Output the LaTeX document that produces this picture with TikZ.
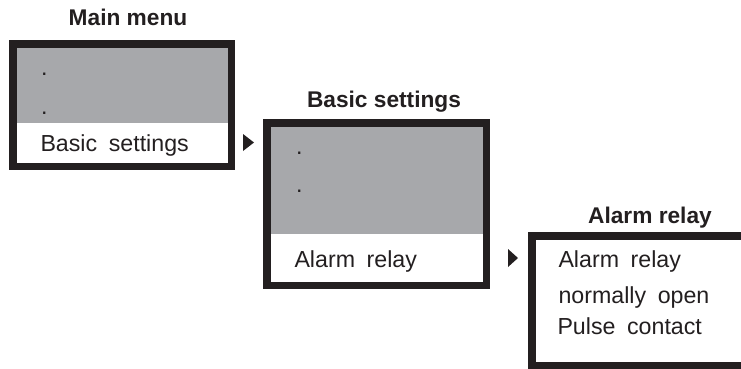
\documentclass[tikz,border=0pt]{standalone}
\usepackage{fontspec}
\setmainfont{Liberation Sans}[WordSpace=1.8]
\newfontfamily\titlefont{Liberation Sans}
\definecolor{menuink}{RGB}{35,31,32}
\definecolor{menugray}{RGB}{167,168,171}
\usetikzlibrary{positioning}

\begin{document}
\begin{tikzpicture}[x=1pt, y=-1pt,
  every node/.style={inner sep=0pt, outer sep=0pt},
  menubox/.style={draw=menuink, line width=7.5pt},
  entry/.style={anchor=base west, font=\fontsize{23.2}{27}\selectfont, menuink},
  heading/.style={anchor=base, font=\titlefont\bfseries\fontsize{22.7}{27}\selectfont, menuink},
]
\useasboundingbox (0,0) rectangle (741,368);

% === Grey (inactive) areas ===
\fill[menugray] (12,43) rectangle (232,123);
\fill[menugray] (266,122) rectangle (487,234);

% === Menu frames ===
\node[menubox, minimum width=218.5pt, minimum height=122.5pt]
      (mainbox) at (122,105) {};
\node[menubox, minimum width=219.5pt, minimum height=162.5pt]
      (basicbox) at (376.5,204) {};
\node[menubox, minimum width=214.5pt, minimum height=129.5pt]
      (alarmbox) at (639,300.5) {};

% === Headings ===
\node[heading] (mainhead) at (128,25) {Main menu};
\node[heading] (basichead) at (384,107) {Basic settings};
\node[heading] (alarmhead) at (650,223) {Alarm relay};

% === Main menu entries ===
\node[entry] (m1) at (41,75) {.};
\node[entry] (m2) at (41,114) {.};
\node[entry] (m3) at (40.5,151) {Basic settings};

% === Basic settings entries ===
\node[entry] (b1) at (296,154) {.};
\node[entry] (b2) at (296,192) {.};
\node[entry] (b3) at (294.5,267) {Alarm relay};

% === Alarm relay entries ===
\node[entry] (a1) at (558.5,267) {Alarm relay};
\node[entry] (a2) at (558.5,303) {normally open};
\node[entry] (a3) at (557.5,334) {Pulse contact};

% === Pointers ===
\fill[menuink] (243,134) -- (254,142.5) -- (243,151) -- cycle;
\fill[menuink] (508,249) -- (518,258) -- (508,267) -- cycle;

\end{tikzpicture}
\end{document}
